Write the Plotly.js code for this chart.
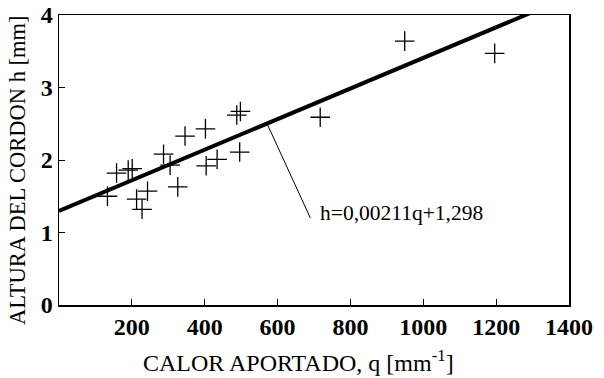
<!DOCTYPE html>
<html>
<head>
<meta charset="utf-8">
<script src="https://cdn.plot.ly/plotly-3.0.1.min.js"></script>
<style>html,body{margin:0;padding:0;background:#fff;}#chart{width:604px;height:378px;}</style>
</head>
<body>
<div id="chart"></div>
<script>
// Measured points: heat input q [mm^-1] vs bead height h [mm]
const heatInput = [133, 158, 190, 201, 213, 228, 243, 287, 305, 326, 346, 402, 404, 434, 488, 498, 496, 717, 949, 1196];
const beadHeight = [1.50, 1.82, 1.86, 1.88, 1.46, 1.32, 1.57, 2.08, 1.93, 1.63, 2.33, 2.43, 1.92, 2.01, 2.62, 2.67, 2.11, 2.59, 3.64, 3.47];

// Regression line from the chart label
const fitSlope = 0.00211;
const fitIntercept = 1.298;
const fitRange = [0, 1400];
const fitLabel = 'h=0,00211q+1,298';

const xTicks = [200, 400, 600, 800, 1000, 1200, 1400];
const yTicks = [0, 1, 2, 3, 4];
const xTitle = 'CALOR APORTADO, q [mm<sup>-1</sup>]';
const yTitle = 'ALTURA DEL CORDON h [mm]';

const fitY = fitRange.map(q => fitSlope * q + fitIntercept);
const leaderFrom = 571, leaderTo = [690, 1.2];

const serif = '"Liberation Serif", "Times New Roman", Times, serif';

const traces = [
  {
    x: fitRange, y: fitY, mode: 'lines', type: 'scatter',
    line: {color: '#000', width: 4}, hoverinfo: 'skip'
  },
  {
    x: heatInput, y: beadHeight, mode: 'markers', type: 'scatter',
    marker: {symbol: 'cross-thin', size: 14, color: '#000', line: {color: '#000', width: 1.3}}
  }
];

const layout = {
  width: 604, height: 378,
  margin: {l: 59, r: 35, t: 15, b: 73},
  paper_bgcolor: '#fff', plot_bgcolor: '#fff',
  showlegend: false,
  font: {family: serif, color: '#000'},
  xaxis: {
    range: [0, 1400], tickvals: xTicks, ticktext: xTicks.map(String),
    ticks: 'inside', ticklen: 6, tickwidth: 1, tickcolor: '#000',
    showline: true, linecolor: '#000', linewidth: 1.5, mirror: true,
    showgrid: false, zeroline: false,
    tickfont: {family: serif, size: 24, weight: 'bold', color: '#000'}
  },
  yaxis: {
    range: [0, 4], tickvals: yTicks, ticktext: yTicks.map(String),
    ticks: 'inside', ticklen: 6, tickwidth: 1, tickcolor: '#000',
    showline: true, linecolor: '#000', linewidth: 1.5, mirror: true,
    showgrid: false, zeroline: false,
    tickfont: {family: serif, size: 24, weight: 'bold', color: '#000'}
  },
  shapes: [{
    type: 'line', xref: 'x', yref: 'y',
    x0: leaderFrom, y0: fitSlope * leaderFrom + fitIntercept,
    x1: leaderTo[0], y1: leaderTo[1],
    line: {color: '#000', width: 1}
  }],
  annotations: [
    {
      x: 712, y: 1.27, xref: 'x', yref: 'y', xanchor: 'left', yanchor: 'middle',
      text: fitLabel, showarrow: false,
      font: {family: serif, size: 21.5, color: '#000'}
    },
    {
      x: 0.47, y: -0.193, xref: 'paper', yref: 'paper', xanchor: 'center', yanchor: 'middle',
      text: xTitle, showarrow: false,
      font: {family: serif, size: 24, color: '#000'}
    },
    {
      x: -0.080, y: 0.466, xref: 'paper', yref: 'paper', xanchor: 'center', yanchor: 'middle',
      text: yTitle, showarrow: false, textangle: -90,
      font: {family: serif, size: 22.5, color: '#000'}
    }
  ]
};

Plotly.newPlot('chart', traces, layout, {displayModeBar: false, staticPlot: true});
</script>
</body>
</html>
